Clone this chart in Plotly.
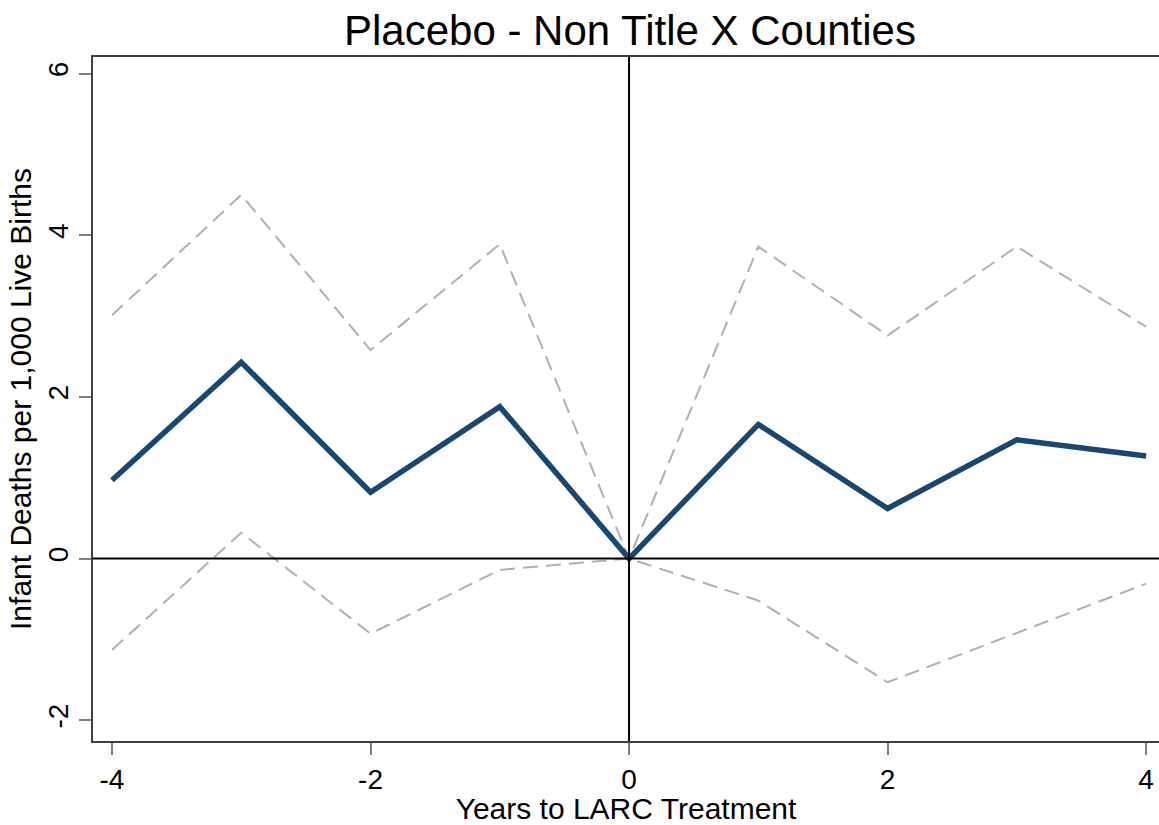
import plotly.graph_objects as go

years = [-4, -3, -2, -1, 0, 1, 2, 3, 4]
estimate = [0.97, 2.43, 0.82, 1.88, 0.0, 1.66, 0.62, 1.47, 1.27]
upper_ci = [3.01, 4.50, 2.58, 3.89, 0.0, 3.86, 2.76, 3.86, 2.87]
lower_ci = [-1.13, 0.32, -0.93, -0.14, 0.0, -0.52, -1.53, -0.92, -0.31]

x_ticks = [-4, -2, 0, 2, 4]
y_ticks = [-2, 0, 2, 4, 6]

FONT = "Liberation Sans, Arial, sans-serif"

fig = go.Figure()
fig.add_trace(go.Scatter(x=years, y=upper_ci, mode="lines",
                         line=dict(color="#b0b0b0", width=2, dash="15px,8px"),
                         showlegend=False))
fig.add_trace(go.Scatter(x=years, y=lower_ci, mode="lines",
                         line=dict(color="#b0b0b0", width=2, dash="15px,8px"),
                         showlegend=False))
fig.add_trace(go.Scatter(x=years, y=estimate, mode="lines",
                         line=dict(color="#1a476f", width=5.5),
                         showlegend=False))

fig.add_hline(y=0, line=dict(color="black", width=2), layer="above")
fig.add_vline(x=0, line=dict(color="black", width=2), layer="above")

fig.update_layout(
    width=1159, height=825,
    margin=dict(l=93, r=0, t=57, b=84),
    paper_bgcolor="white", plot_bgcolor="white",
    font=dict(family=FONT, color="black"),
    title=dict(text="Placebo - Non Title X Counties",
               font=dict(size=42, color="black", family=FONT),
               x=630 / 1159, xref="container", xanchor="center",
               y=1 - 30 / 825, yref="container", yanchor="middle"),
)
fig.update_xaxes(
    range=[-4.147, 4.1], tickvals=x_ticks, ticktext=[str(v) for v in x_ticks],
    showgrid=False, zeroline=False,
    showline=True, linecolor="#404040", linewidth=2, mirror=True,
    ticks="outside", ticklen=12, tickwidth=2, tickcolor="#808080",
    tickfont=dict(size=28, family=FONT, color="black"),
    title=dict(text="Years to LARC Treatment", standoff=5,
               font=dict(size=30, family=FONT, color="black")),
    automargin=False,
)
fig.update_yaxes(
    range=[-2.257, 6.206], tickvals=y_ticks, ticktext=[str(v) for v in y_ticks],
    tickangle=-90,
    showgrid=False, zeroline=False,
    showline=True, linecolor="#404040", linewidth=2, mirror=True,
    ticks="outside", ticklen=12, tickwidth=2, tickcolor="#808080",
    tickfont=dict(size=28, family=FONT, color="black"),
    title=dict(text="Infant Deaths per 1,000 Live Births", standoff=2,
               font=dict(size=30, family=FONT, color="black")),
    automargin=False,
)

fig.write_html("out.html")
